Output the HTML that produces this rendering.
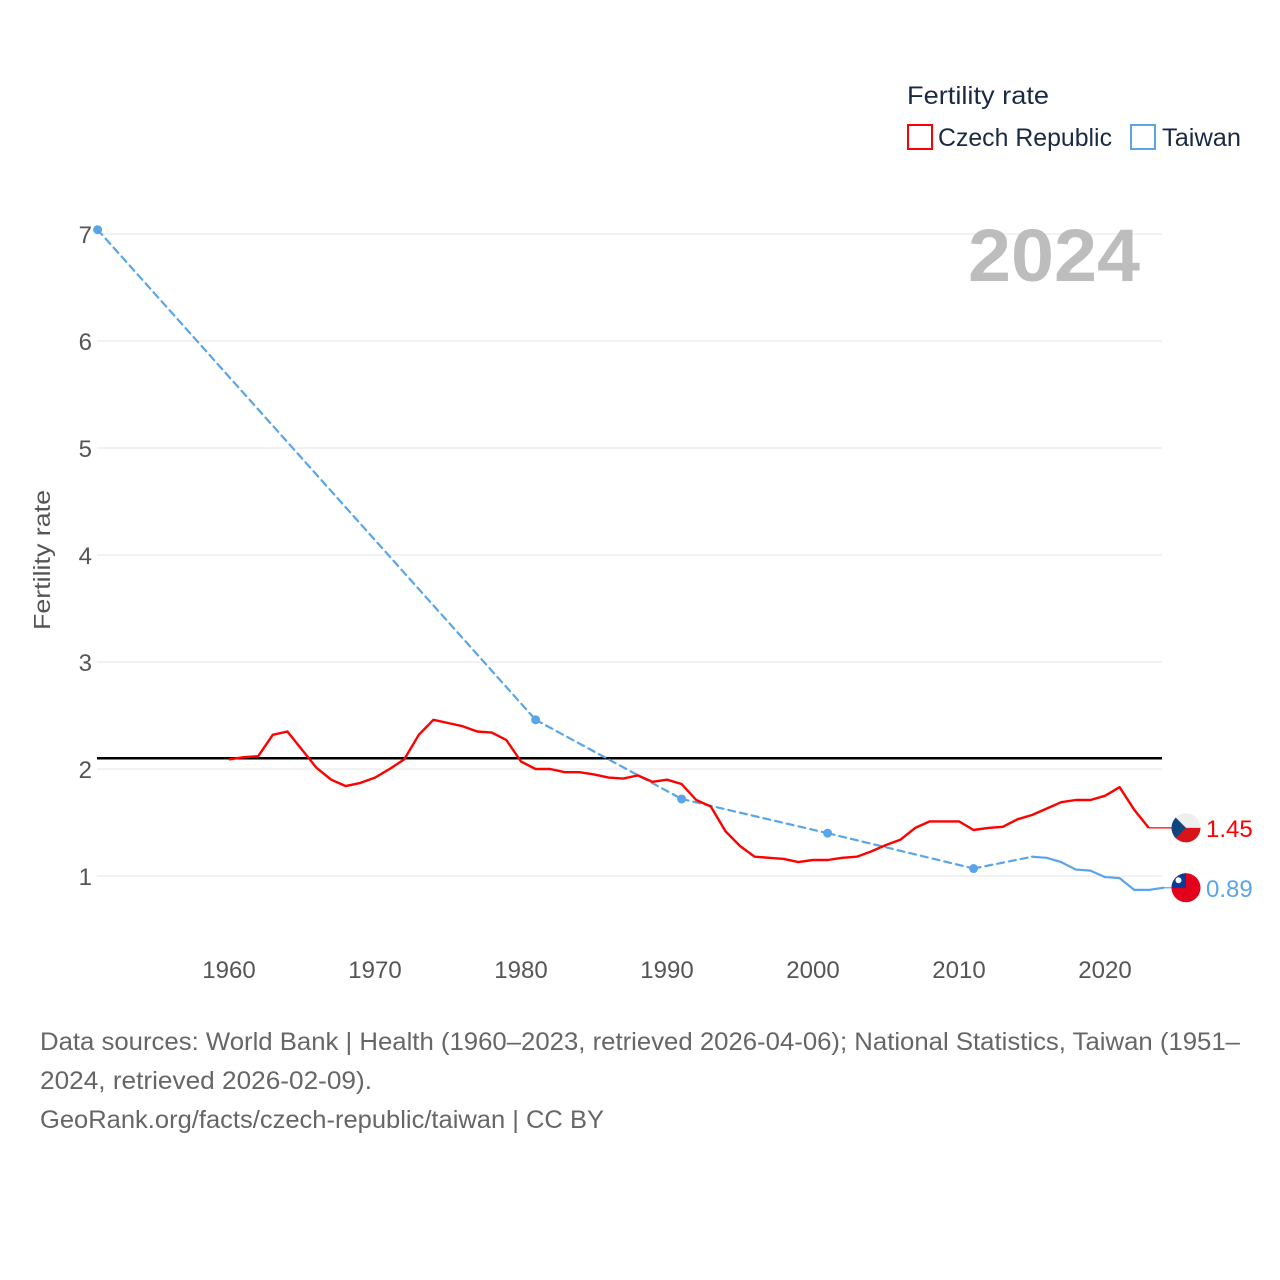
<!DOCTYPE html>
<html><head><meta charset="utf-8"><style>
html,body{margin:0;padding:0;background:#fff;}
svg{display:block;font-family:"Liberation Sans",sans-serif;}
</style></head><body>
<svg id="chart" width="1280" height="1280" viewBox="0 0 1280 1280" xmlns="http://www.w3.org/2000/svg">
  <g id="grid"></g>
  <g id="yticks" fill="#555" font-size="24" text-anchor="end"></g>
  <g id="xticks" fill="#555" font-size="24" text-anchor="middle"></g>
  <text x="0" y="0" transform="translate(50,560) rotate(-90)" text-anchor="middle" font-size="23" fill="#555" textLength="140" lengthAdjust="spacingAndGlyphs">Fertility rate</text>
  <text x="1140" y="281" text-anchor="end" font-size="74" font-weight="bold" fill="#bdbdbd" textLength="172" lengthAdjust="spacingAndGlyphs">2024</text>
  <g id="series"></g>
  <g>
    <text x="907" y="104" font-size="25" fill="#1a2a44" textLength="142" lengthAdjust="spacingAndGlyphs">Fertility rate</text>
    <g>
      <rect x="908" y="125" width="24" height="24" fill="none" stroke="#ff0000" stroke-width="2"/>
      <text x="938" y="146" font-size="25" fill="#1a2a44" textLength="174" lengthAdjust="spacingAndGlyphs">Czech Republic</text>
    </g>
    <g>
      <rect x="1131" y="125" width="24" height="24" fill="none" stroke="#5aa5ea" stroke-width="2"/>
      <text x="1162" y="146" font-size="25" fill="#1a2a44" textLength="79" lengthAdjust="spacingAndGlyphs">Taiwan</text>
    </g>
  </g>
  <g font-size="25" fill="#666">
    <text x="40" y="1050" textLength="1200" lengthAdjust="spacingAndGlyphs">Data sources: World Bank | Health (1960–2023, retrieved 2026-04-06); National Statistics, Taiwan (1951–</text>
    <text x="40" y="1089" textLength="332" lengthAdjust="spacingAndGlyphs">2024, retrieved 2026-02-09).</text>
    <text x="40" y="1128" textLength="564" lengthAdjust="spacingAndGlyphs">GeoRank.org/facts/czech-republic/taiwan | CC BY</text>
  </g>
</svg>
<script>
const czYears = [];
for (let y = 1960; y <= 2023; y++) czYears.push(y);
const czValues = [2.09,2.11,2.12,2.32,2.35,2.18,2.01,1.90,1.84,1.87,1.92,2.00,2.09,2.32,2.46,2.43,2.40,2.35,2.34,2.27,2.07,2.00,2.00,1.97,1.97,1.95,1.92,1.91,1.94,1.88,1.90,1.86,1.71,1.65,1.42,1.28,1.18,1.17,1.16,1.13,1.15,1.15,1.17,1.18,1.23,1.29,1.34,1.45,1.51,1.51,1.51,1.43,1.45,1.46,1.53,1.57,1.63,1.69,1.71,1.71,1.75,1.83,1.62,1.45];
const czLatest = 1.45;
const twYears = [1951,1981,1991,2001,2011,2015,2016,2017,2018,2019,2020,2021,2022,2023,2024];
const twValues = [7.04,2.46,1.72,1.40,1.07,1.18,1.17,1.13,1.06,1.05,0.99,0.98,0.87,0.87,0.89];
const yTicks = [1,2,3,4,5,6,7];
const xTicks = [1960,1970,1980,1990,2000,2010,2020];
const replacementLevel = 2.1;

const NS = 'http://www.w3.org/2000/svg';
const xS = yr => 229 + (yr - 1960) * 14.6;
const yS = v => 983 - v * 107;
function mk(tag, attrs, parent) {
  const e = document.createElementNS(NS, tag);
  for (const k in attrs) e.setAttribute(k, attrs[k]);
  parent.appendChild(e);
  return e;
}
const grid = document.getElementById('grid');
const yt = document.getElementById('yticks');
const xt = document.getElementById('xticks');
const ser = document.getElementById('series');

yTicks.forEach(v => {
  const l = mk('line', {x1: 97, x2: 1162, y1: yS(v), y2: yS(v), stroke: '#e6e6e6', 'stroke-width': 1}, grid);
  
  
  const t = mk('text', {x: 92, y: yS(v) + 9}, yt);
  t.textContent = v;
  
  
});
xTicks.forEach(yr => {
  const t = mk('text', {x: xS(yr), y: 978}, xt);
  t.textContent = yr;
  
  
});

// replacement line
const rl = mk('line', {x1: 97, x2: 1162, y1: yS(replacementLevel), y2: yS(replacementLevel), stroke: '#000', 'stroke-width': 2.5}, ser);



// Taiwan: dashed across gaps, solid for consecutive years
for (let i = 0; i < twYears.length - 1; i++) {
  const gap = twYears[i + 1] - twYears[i] > 1;
  const seg = mk('line', {x1: xS(twYears[i]), y1: yS(twValues[i]), x2: xS(twYears[i + 1]), y2: yS(twValues[i + 1]), stroke: '#5aa5ea', 'stroke-width': 2.2, 'stroke-dasharray': gap ? '7,5' : 'none', 'stroke-linecap': 'round'}, ser);
  
  
}
for (let i = 0; i < twYears.length; i++) {
  const isolated = (i === 0 || twYears[i] - twYears[i - 1] > 1) && (i === twYears.length - 1 || twYears[i + 1] - twYears[i] > 1);
  const firstOfGap = i < twYears.length - 1 && twYears[i + 1] - twYears[i] > 1;
  if (isolated || firstOfGap) {
    const c = mk('circle', {cx: xS(twYears[i]), cy: yS(twValues[i]), r: 4.5, fill: '#5aa5ea'}, ser);
    
    
  }
}

// Czech line
const czPts = czYears.map((y, i) => xS(y).toFixed(1) + ',' + yS(czValues[i]).toFixed(1)).join(' ');
const cz = mk('polyline', {points: czPts, fill: 'none', stroke: '#ff0000', 'stroke-width': 2.4, 'stroke-linejoin': 'round'}, ser);


const czExt = mk('line', {x1: xS(czYears[czYears.length - 1]), y1: yS(czLatest), x2: 1172, y2: yS(czLatest), stroke: '#ff0000', 'stroke-width': 1.2}, ser);


const twLast = twValues[twValues.length - 1];
const twExt = mk('line', {x1: xS(2024), y1: yS(twLast), x2: 1172, y2: yS(twLast), stroke: '#5aa5ea', 'stroke-width': 1.2}, ser);



// Flags
const fx = 1186;
const defs = mk('defs', {}, ser);
const cp1 = mk('clipPath', {id: 'cpCz'}, defs);
mk('circle', {cx: fx, cy: yS(czLatest), r: 14.5}, cp1);
const cp2 = mk('clipPath', {id: 'cpTw'}, defs);
mk('circle', {cx: fx, cy: yS(twLast), r: 14.5}, cp2);

const fcz = mk('g', {'clip-path': 'url(#cpCz)'}, ser);


const cy1 = yS(czLatest);
mk('rect', {x: fx - 15, y: cy1 - 15, width: 30, height: 15, fill: '#eeeeee'}, fcz);
mk('rect', {x: fx - 15, y: cy1, width: 30, height: 15, fill: '#d7141a'}, fcz);
mk('polygon', {points: `${fx - 15},${cy1 - 15} ${fx},${cy1} ${fx - 15},${cy1 + 15}`, fill: '#11457e'}, fcz);

const ftw = mk('g', {'clip-path': 'url(#cpTw)'}, ser);


const cy2 = yS(twLast);
mk('rect', {x: fx - 15, y: cy2 - 15, width: 30, height: 30, fill: '#e3001c'}, ftw);
mk('rect', {x: fx - 15, y: cy2 - 15, width: 15, height: 15, fill: '#0a3a9a'}, ftw);
mk('circle', {cx: fx - 7.5, cy: cy2 - 7.5, r: 3, fill: '#fff'}, ftw);

const l1 = mk('text', {x: 1206, y: yS(czLatest) + 9, 'font-size': 24, fill: '#ff0000'}, ser);
l1.textContent = czLatest.toFixed(2);


const l2 = mk('text', {x: 1206, y: yS(twLast) + 9, 'font-size': 24, fill: '#5aa5ea'}, ser);
l2.textContent = twLast.toFixed(2);


</script>
</body></html>
